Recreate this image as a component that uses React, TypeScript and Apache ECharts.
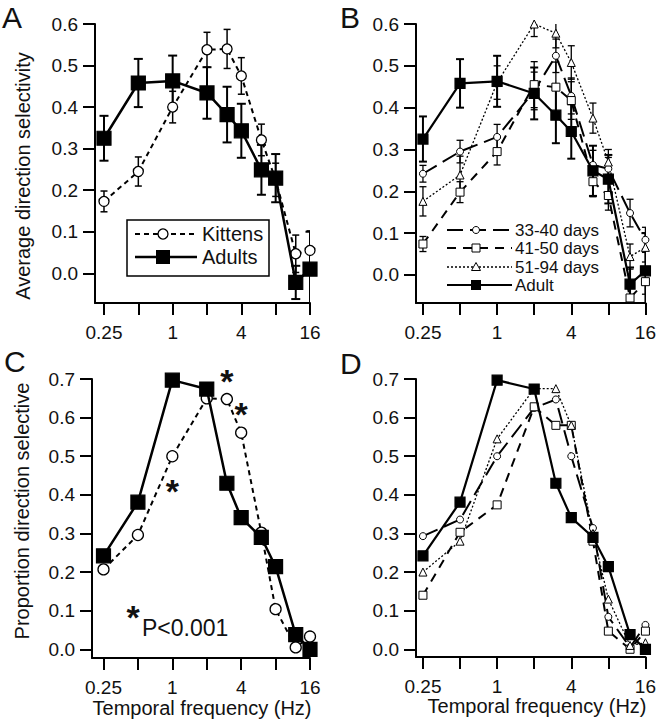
import React, { useEffect, useRef } from "react";
import * as echarts from "echarts";

// ---------- data ----------
const FREQS = [0.25, 0.5, 1, 2, 3, 4, 6, 8, 12, 16];
const X_TICKS = [0.25, 0.5, 1, 2, 4, 8, 16];
const X_LABELS = [0.25, 1, 4, 16];
const Y_TICKS_TOP = [0, 0.1, 0.2, 0.3, 0.4, 0.5, 0.6];
const Y_TICKS_BOTTOM = [0, 0.1, 0.2, 0.3, 0.4, 0.5, 0.6, 0.7];

// Panel A: average direction selectivity
const A_KITTENS = [0.173, 0.245, 0.4, 0.538, 0.54, 0.475, 0.321, 0.225, 0.047, 0.055];
const A_KITTENS_ERR = [0.025, 0.035, 0.038, 0.042, 0.047, 0.044, 0.038, 0.04, 0.045, 0.047];
const A_ADULTS = [0.325, 0.458, 0.463, 0.434, 0.382, 0.343, 0.249, 0.229, -0.022, 0.01];
const A_ADULTS_ERR = [0.054, 0.058, 0.061, 0.062, 0.067, 0.065, 0.06, 0.058, 0.04, 0.09];

// Panel B: by age group
const B_33_40 = [0.242, 0.295, 0.33, 0.44, 0.524, 0.428, 0.263, 0.254, 0.148, 0.084];
const B_33_40_ERR = [0.02, 0.027, 0.03, 0.045, 0.04, 0.043, 0.035, 0.027, 0.033, 0.03];
const B_41_50 = [0.074, 0.198, 0.295, 0.455, 0.449, 0.417, 0.223, 0.19, -0.055, -0.016];
const B_41_50_ERR = [0.018, 0.025, 0.032, 0.055, 0.06, 0.045, 0.036, 0.035, 0.03, 0.03];
const B_51_94 = [0.176, 0.239, 0.46, 0.6, 0.578, 0.508, 0.375, 0.27, 0.044, 0.066];
const B_51_94_ERR = [0.035, 0.045, 0.04, 0.03, 0.035, 0.04, 0.036, 0.03, 0.03, 0.035];
const B_ADULT = A_ADULTS;
const B_ADULT_ERR = A_ADULTS_ERR;

// Panel C: proportion direction selective
const C_KITTENS = [0.207, 0.296, 0.5, 0.65, 0.648, 0.561, 0.302, 0.104, 0.005, 0.033];
const C_ADULTS = [0.242, 0.381, 0.697, 0.674, 0.43, 0.341, 0.29, 0.214, 0.038, 0.0];
const C_STAR_FREQS = [3, 4, 1];
const C_STAR_Y = [0.718, 0.633, 0.433];

// Panel D: by age group
const D_33_40 = [0.293, 0.336, 0.5, 0.625, 0.647, 0.5, 0.314, 0.084, 0.005, 0.063];
const D_41_50 = [0.14, 0.303, 0.374, 0.628, 0.58, 0.58, 0.28, 0.047, 0.0, 0.047];
const D_51_94 = [0.2, 0.28, 0.545, 0.675, 0.675, 0.58, 0.3, 0.13, 0.01, 0.017];
const D_ADULT = C_ADULTS;

const FONT = "'Liberation Sans', Arial, Helvetica, sans-serif";
const INK = "#111";

const lg = (f: number) => Math.log2(f);

function xAxis(gi: number, min: number) {
  return {
    type: "value",
    gridIndex: gi,
    min,
    max: 4,
    splitLine: { show: false },
    axisLine: { show: true, onZero: false, lineStyle: { color: "#000", width: 2 } },
    axisTick: { show: true, length: 12, lineStyle: { color: "#000", width: 2 }, customValues: X_TICKS.map(lg) },
    axisLabel: {
      show: true,
      customValues: X_LABELS.map(lg),
      formatter: (v: number) => String(Math.pow(2, v)),
      fontSize: 19,
      fontFamily: FONT,
      color: INK,
      margin: 20,
    },
  };
}

function yAxis(gi: number, min: number, max: number, ticks: number[]) {
  return {
    type: "value",
    gridIndex: gi,
    min,
    max,
    splitLine: { show: false },
    axisLine: { show: true, onZero: false, lineStyle: { color: "#000", width: 2 } },
    axisTick: { show: true, length: 12, lineStyle: { color: "#000", width: 2 }, customValues: ticks },
    axisLabel: {
      show: true,
      customValues: ticks,
      formatter: (v: number) => v.toFixed(1),
      fontSize: 19,
      fontFamily: FONT,
      color: INK,
      margin: 17,
    },
  };
}

function lineSeries(gi: number, vals: number[], o: any) {
  return {
    type: "line",
    xAxisIndex: gi,
    yAxisIndex: gi,
    data: FREQS.map((f, k) => [lg(f), vals[k]]),
    symbol: o.symbol,
    symbolSize: o.size,
    showSymbol: true,
    silent: true,
    emphasis: { disabled: true },
    itemStyle: { color: o.fill, borderColor: "#000", borderWidth: o.bw ?? 1.2 },
    lineStyle: { color: "#000", width: o.width, type: o.type ?? "solid" },
    z: o.z ?? 3,
  };
}

function errSeries(gi: number, vals: number[], errs: number[], width: number, cap: number) {
  return {
    type: "custom",
    xAxisIndex: gi,
    yAxisIndex: gi,
    silent: true,
    clip: true,
    z: 2,
    data: FREQS.map((f, k) => [lg(f), vals[k] - errs[k], vals[k] + errs[k]]),
    renderItem: (_p: any, api: any) => {
      const lo = api.coord([api.value(0), api.value(1)]);
      const hi = api.coord([api.value(0), api.value(2)]);
      const st = { stroke: "#000", lineWidth: width };
      return {
        type: "group",
        children: [
          { type: "line", shape: { x1: lo[0], y1: lo[1], x2: hi[0], y2: hi[1] }, style: st },
          { type: "line", shape: { x1: lo[0] - cap, y1: lo[1], x2: lo[0] + cap, y2: lo[1] }, style: st },
          { type: "line", shape: { x1: hi[0] - cap, y1: hi[1], x2: hi[0] + cap, y2: hi[1] }, style: st },
        ],
      };
    },
  };
}

const T = (text: string, x: number, y: number, size: number, extra: any = {}) => ({
  type: "text",
  x,
  y,
  z: 100,
  silent: true,
  style: {
    text,
    fontSize: size,
    fontFamily: FONT,
    fontWeight: extra.weight ?? "normal",
    fill: INK,
    align: extra.align ?? "left",
    verticalAlign: "middle",
  },
  rotation: extra.rotation ?? 0,
});

const L = (x1: number, y1: number, x2: number, y2: number, w: number, dash?: number[]) => ({
  type: "line",
  z: 101,
  silent: true,
  shape: { x1, y1, x2, y2 },
  style: { stroke: "#000", lineWidth: w, lineDash: dash },
});

const DASH_K = [5, 4];
const DASH_33 = [16, 7];
const DASH_41 = [9, 7];
const DASH_51 = [2, 2];

export default function App() {
  const ref = useRef<HTMLDivElement>(null);
  useEffect(() => {
    if (!ref.current) return;
    const chart = echarts.init(ref.current, undefined, { renderer: "svg" });

    const legendB = (y: number, dash: number[] | undefined, w: number, marker: any, label: string) => [
      L(447, y, 512, y, w, dash),
      marker,
      T(label, 515, y, 17),
    ];

    const option: any = {
      animation: false,
      backgroundColor: "#fff",
      grid: [
        { left: 95, top: 24, width: 215, height: 279 },
        { left: 416, top: 24, width: 231, height: 279 },
        { left: 92, top: 379, width: 218, height: 279 },
        { left: 416, top: 379, width: 231, height: 278 },
      ],
      xAxis: [xAxis(0, -2.262), xAxis(1, -2.1875), xAxis(2, -2.334), xAxis(3, -2.1875)],
      yAxis: [
        yAxis(0, -0.0715, 0.6, Y_TICKS_TOP),
        yAxis(1, -0.067, 0.6, Y_TICKS_TOP),
        yAxis(2, -0.0225, 0.7, Y_TICKS_BOTTOM),
        yAxis(3, -0.02, 0.7, Y_TICKS_BOTTOM),
      ],
      series: [
        // A
        errSeries(0, A_KITTENS, A_KITTENS_ERR, 1.5, 3.5),
        errSeries(0, A_ADULTS, A_ADULTS_ERR, 2, 4.5),
        lineSeries(0, A_KITTENS, { symbol: "circle", size: 10, fill: "#fff", width: 2, type: DASH_K, bw: 1.3 }),
        lineSeries(0, A_ADULTS, { symbol: "rect", size: 14, fill: "#000", width: 2.5, z: 4 }),
        // B
        errSeries(1, B_33_40, B_33_40_ERR, 1.3, 3.5),
        errSeries(1, B_41_50, B_41_50_ERR, 1.3, 3.5),
        errSeries(1, B_51_94, B_51_94_ERR, 1.3, 3.5),
        errSeries(1, B_ADULT, B_ADULT_ERR, 2, 4),
        lineSeries(1, B_33_40, { symbol: "circle", size: 7, fill: "#fff", width: 2, type: DASH_33, bw: 1 }),
        lineSeries(1, B_41_50, { symbol: "rect", size: 8, fill: "#fff", width: 2, type: DASH_41, bw: 1 }),
        lineSeries(1, B_51_94, { symbol: "triangle", size: 8, fill: "#fff", width: 1.3, type: DASH_51, bw: 1 }),
        lineSeries(1, B_ADULT, { symbol: "rect", size: 10, fill: "#000", width: 2.2, z: 4 }),
        // C
        lineSeries(2, C_KITTENS, { symbol: "circle", size: 11, fill: "#fff", width: 2, type: DASH_K, bw: 1.3 }),
        lineSeries(2, C_ADULTS, { symbol: "rect", size: 14, fill: "#000", width: 2.5, z: 4 }),
        {
          type: "custom",
          xAxisIndex: 2,
          yAxisIndex: 2,
          silent: true,
          clip: false,
          z: 6,
          data: C_STAR_FREQS.map((f, k) => [lg(f), C_STAR_Y[k]]),
          renderItem: (_p: any, api: any) => {
            const c = api.coord([api.value(0), api.value(1)]);
            return {
              type: "text",
              x: c[0],
              y: c[1] + 9,
              style: {
                text: "*",
                fontSize: 34,
                fontWeight: "bold",
                fontFamily: FONT,
                fill: INK,
                align: "center",
                verticalAlign: "middle",
              },
            };
          },
        },
        // D
        lineSeries(3, D_33_40, { symbol: "circle", size: 7, fill: "#fff", width: 2, type: DASH_33, bw: 1 }),
        lineSeries(3, D_41_50, { symbol: "rect", size: 8, fill: "#fff", width: 2, type: DASH_41, bw: 1 }),
        lineSeries(3, D_51_94, { symbol: "triangle", size: 8, fill: "#fff", width: 1.3, type: DASH_51, bw: 1 }),
        lineSeries(3, D_ADULT, { symbol: "rect", size: 10, fill: "#000", width: 2.2, z: 4 }),
      ],
      graphic: [
        // panel letters
        T("A", 2, 17, 30),
        T("B", 340, 17, 30),
        T("C", 4, 361, 30),
        T("D", 340, 363, 30),
        // axis titles
        T("Average direction selectivity", 23, 176, 20, { align: "center", rotation: Math.PI / 2 }),
        T("Proportion direction selective", 22, 511, 20, { align: "center", rotation: Math.PI / 2 }),
        T("Temporal frequency (Hz)", 202, 708, 20, { align: "center" }),
        T("Temporal frequency (Hz)", 537, 706, 20, { align: "center" }),
        // legend A
        {
          type: "rect",
          z: 99,
          silent: true,
          shape: { x: 127, y: 220, width: 142, height: 56 },
          style: { fill: "#fff", stroke: "#000", lineWidth: 1.5 },
        },
        L(135, 234, 197, 234, 2, DASH_K),
        { type: "circle", z: 102, silent: true, shape: { cx: 163, cy: 234, r: 5 }, style: { fill: "#fff", stroke: "#000", lineWidth: 1.3 } },
        T("Kittens", 202, 234, 20),
        L(135, 257, 197, 257, 2.5),
        { type: "rect", z: 102, silent: true, shape: { x: 156, y: 250, width: 14, height: 14 }, style: { fill: "#000" } },
        T("Adults", 202, 257, 20),
        // legend B
        ...legendB(230, DASH_33, 2, { type: "circle", z: 102, silent: true, shape: { cx: 476, cy: 230, r: 3.5 }, style: { fill: "#fff", stroke: "#000", lineWidth: 1 } }, "33-40 days"),
        ...legendB(248, DASH_41, 2, { type: "rect", z: 102, silent: true, shape: { x: 472, y: 244, width: 8, height: 8 }, style: { fill: "#fff", stroke: "#000", lineWidth: 1 } }, "41-50 days"),
        ...legendB(267, DASH_51, 1.3, { type: "polygon", z: 102, silent: true, shape: { points: [[476, 262.5], [480.5, 270.5], [471.5, 270.5]] }, style: { fill: "#fff", stroke: "#000", lineWidth: 1 } }, "51-94 days"),
        ...legendB(285, undefined, 2.2, { type: "rect", z: 102, silent: true, shape: { x: 471, y: 280, width: 10, height: 10 }, style: { fill: "#000" } }, "Adult"),
        // C significance note
        T("*", 133, 617, 34, { align: "center", weight: "bold" }),
        T("P<0.001", 142, 628, 23),
      ],
    };
    chart.setOption(option);
    return () => chart.dispose();
  }, []);
  return <div ref={ref} style={{ position: "absolute", left: 0, top: 0, width: 659, height: 720 }} />;
}
